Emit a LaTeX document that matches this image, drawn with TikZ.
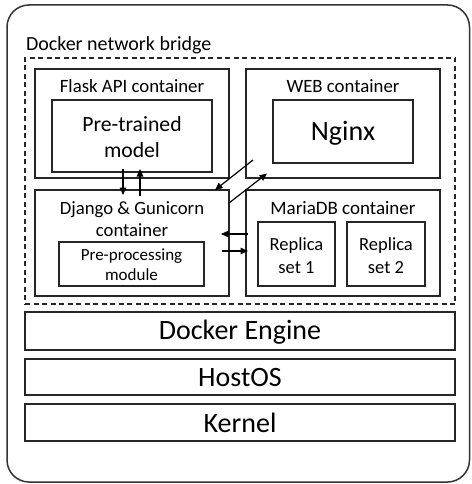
\documentclass[tikz,border=0pt]{standalone}
\usepackage{fontspec}
\setmainfont{Carlito}
\usetikzlibrary{arrows.meta}
\begin{document}
\begin{tikzpicture}[x=1pt,y=-1pt,
  box/.style={draw=black!85, line width=1.3pt, inner sep=0pt, outer sep=0pt},
  lbl/.style={inner sep=0pt, outer sep=0pt, align=center, text=black},
  arr/.style={-{Triangle[length=7.5pt,width=6.5pt]}, line width=1.2pt}]
\useasboundingbox (0,0) rectangle (471,484);
% outer rounded frame
\draw[rounded corners=22pt, line width=1.5pt, draw=black!80] (7,5) rectangle (469.5,482);
\node[lbl, anchor=west, font=\fontsize{20}{24}\selectfont] (title) at (26,45) {Docker network bridge};
% dashed network bridge
\node[box, dashed, dash pattern=on 5pt off 3.5pt, minimum width=430pt, minimum height=246pt] (bridge) at (240,181) {};
% containers
\node[box, minimum width=194pt, minimum height=109pt] (flask) at (132,123.5) {};
\node[box, minimum width=160pt, minimum height=72pt] (pre) at (132,136) {};
\node[box, minimum width=194pt, minimum height=109pt] (web) at (343,123.5) {};
\node[box, minimum width=140pt, minimum height=63pt] (nginx) at (343,131.5) {};
\node[box, minimum width=194pt, minimum height=106pt] (django) at (132,243) {};
\node[box, minimum width=145pt, minimum height=44pt] (prep) at (131.5,264) {};
\node[box, minimum width=194pt, minimum height=106pt] (maria) at (343,243) {};
\node[box, minimum width=77pt, minimum height=64pt] (rep1) at (296.5,254) {};
\node[box, minimum width=78pt, minimum height=64pt] (rep2) at (386,254) {};
% layers
\node[box, minimum width=430pt, minimum height=38pt] (engine) at (240,331) {};
\node[box, minimum width=430pt, minimum height=36pt] (host) at (240,377) {};
\node[box, minimum width=430pt, minimum height=37pt] (kernel) at (240,422.5) {};
% labels
\node[lbl, font=\fontsize{18.8}{22}\selectfont] (flasklbl) at (132,86) {Flask API container};
\node[lbl, font=\fontsize{18.8}{22}\selectfont] (weblbl) at (343,86) {WEB container};
\node[lbl, font=\fontsize{21.7}{26}\selectfont] (prelbl) at (132,137.5) {Pre-trained\\model};
\node[lbl, font=\fontsize{28}{32}\selectfont] (nginxlbl) at (343,133) {Nginx};
\node[lbl, font=\fontsize{18.7}{21.5}\selectfont] (djlbl) at (132,219) {Django \& Gunicorn\\container};
\node[lbl, font=\fontsize{17}{20}\selectfont] (preplbl) at (131.5,264.5) {Pre-processing\\module};
\node[lbl, font=\fontsize{19}{22}\selectfont] (marialbl) at (343,208) {MariaDB container};
\node[lbl, font=\fontsize{18.5}{23}\selectfont] (rep1lbl) at (296.5,256) {Replica\\set 1};
\node[lbl, font=\fontsize{18.5}{23}\selectfont] (rep2lbl) at (386,256) {Replica\\set 2};
\node[lbl, font=\fontsize{28}{32}\selectfont] (enginelbl) at (240,332) {Docker Engine};
\node[lbl, font=\fontsize{28}{32}\selectfont] (hostlbl) at (240,377.5) {HostOS};
\node[lbl, font=\fontsize{28}{32}\selectfont] (kernellbl) at (240,423) {Kernel};
% arrow end points
\coordinate (a1s) at (123,169);
\coordinate (a1e) at (123,195);
\coordinate (a2s) at (140,196);
\coordinate (a2e) at (140,169);
\coordinate (a3s) at (253,160);
\coordinate (a3e) at (215,190);
\coordinate (a4s) at (229,203);
\coordinate (a4e) at (267,173.5);
\coordinate (a5s) at (248,234);
\coordinate (a5e) at (221,234);
\coordinate (a6s) at (222,251);
\coordinate (a6e) at (248,251);
\draw[arr] (a1s) -- (a1e);
\draw[arr] (a2s) -- (a2e);
\draw[arr] (a3s) -- (a3e);
\draw[arr] (a4s) -- (a4e);
\draw[arr] (a5s) -- (a5e);
\draw[arr] (a6s) -- (a6e);
\end{tikzpicture}
\end{document}
